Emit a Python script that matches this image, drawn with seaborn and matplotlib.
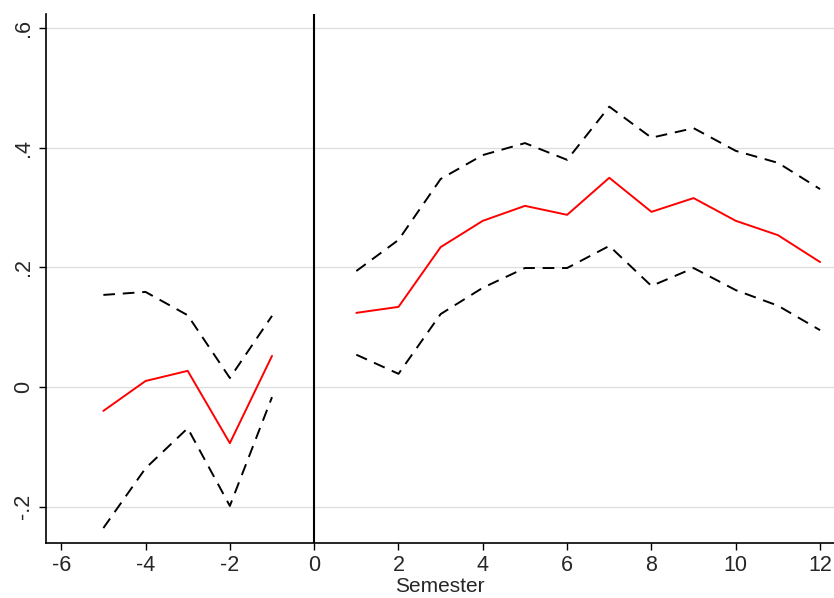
import matplotlib
matplotlib.use('Agg')
import matplotlib.pyplot as plt
import seaborn as sns
import pandas as pd

sns.set_theme(style='white')
plt.rcParams['font.family'] = ['Liberation Sans Narrow', 'Liberation Sans', 'DejaVu Sans']
plt.rcParams['axes.unicode_minus'] = False

# event-time coefficients with 95% bounds
pre_sem = [-5, -4, -3, -2, -1]
pre_coef = [-0.040, 0.010, 0.027, -0.094, 0.052]
pre_hi = [0.154, 0.159, 0.120, 0.015, 0.119]
pre_lo = [-0.236, -0.136, -0.069, -0.199, -0.017]

post_sem = [1, 2, 3, 4, 5, 6, 7, 8, 9, 10, 11, 12]
post_coef = [0.124, 0.134, 0.234, 0.278, 0.303, 0.288, 0.350, 0.293, 0.316, 0.278, 0.254, 0.209]
post_hi = [0.194, 0.246, 0.348, 0.388, 0.408, 0.380, 0.469, 0.417, 0.433, 0.395, 0.375, 0.331]
post_lo = [0.054, 0.022, 0.122, 0.166, 0.199, 0.199, 0.236, 0.169, 0.199, 0.162, 0.136, 0.095]

x_ticks = [-6, -4, -2, 0, 2, 4, 6, 8, 10, 12]
y_ticks = [-0.2, 0, 0.2, 0.4, 0.6]
y_labels = ['-.2', '0', '.2', '.4', '.6']

fig = plt.figure(figsize=(8.34, 5.98), dpi=100)
ax = fig.add_axes([0.0552, 0.092, 0.9448, 0.8846])

for sem, coef, hi, lo in [(pre_sem, pre_coef, pre_hi, pre_lo),
                          (post_sem, post_coef, post_hi, post_lo)]:
    d = pd.DataFrame({'sem': sem, 'coef': coef, 'hi': hi, 'lo': lo})
    sns.lineplot(data=d, x='sem', y='coef', color='red', lw=1.4, ax=ax)
    sns.lineplot(data=d, x='sem', y='hi', color='black', lw=1.4, ax=ax,
                 dashes=False, linestyle=(0, (6, 4)))
    sns.lineplot(data=d, x='sem', y='lo', color='black', lw=1.4, ax=ax,
                 dashes=False, linestyle=(0, (6, 4)))

ax.axvline(0, color='black', lw=1.5)
for yv in y_ticks:
    ax.axhline(yv, color='#dcdcdc', lw=0.9, zorder=0)

ax.set_xlim(-6.36, 12.33)
ax.set_ylim(-0.261, 0.624)
ax.set_xticks(x_ticks)
ax.set_xticklabels([str(v) for v in x_ticks])
ax.set_yticks(y_ticks)
ax.set_yticklabels(y_labels, rotation=90, va='center')
ax.tick_params(axis='both', labelsize=15.5, length=5, width=1, color='black',
               direction='out', bottom=True, left=True)
ax.set_xlabel('Semester', fontsize=15, labelpad=1)
ax.set_ylabel('')

for s in ['top', 'right']:
    ax.spines[s].set_visible(False)
for s in ['left', 'bottom']:
    ax.spines[s].set_color('black')
    ax.spines[s].set_linewidth(1.2)

fig.savefig('out.png', dpi=100)
